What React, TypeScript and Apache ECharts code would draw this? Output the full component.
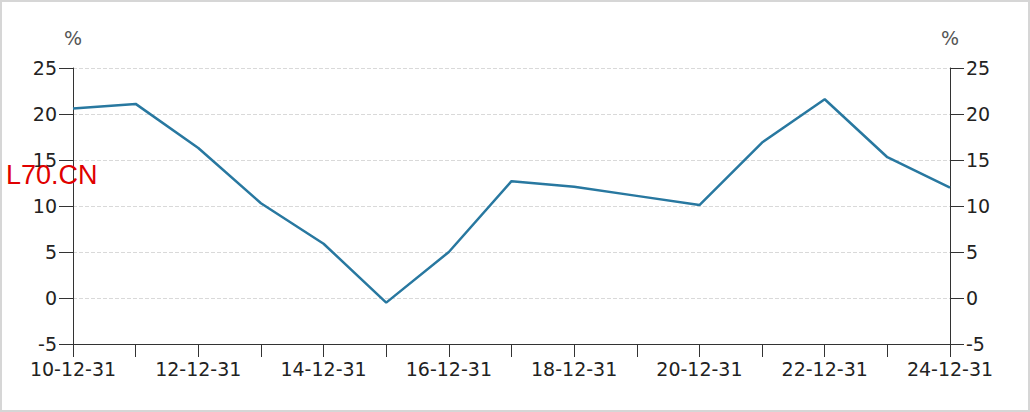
import React, { useEffect, useRef } from "react";
import * as echarts from "echarts";

const categories = [
  "10-12-31", "11-12-31", "12-12-31", "13-12-31", "14-12-31",
  "15-12-31", "16-12-31", "17-12-31", "18-12-31", "19-12-31",
  "20-12-31", "21-12-31", "22-12-31", "23-12-31", "24-12-31",
];
const values = [20.6, 21.1, 16.3, 10.3, 5.9, -0.5, 5.0, 12.7, 12.1, 11.1, 10.1, 16.9, 21.6, 15.3, 12.0];
const yMin = -5;
const yMax = 25;
const yStep = 5;
const unitName = "%";
const watermark = "L70.CN";

const FONT = "'DejaVu Sans', sans-serif";

export default function App() {
  const ref = useRef<HTMLDivElement>(null);
  useEffect(() => {
    const chart = echarts.init(ref.current!, null, { renderer: "svg" });
    const yAxisCommon = {
      type: "value" as const,
      min: yMin,
      max: yMax,
      interval: yStep,
      name: unitName,
      nameGap: 21,
      nameTextStyle: { color: "#555", fontSize: 19, fontFamily: FONT },
      axisLine: { show: true, lineStyle: { color: "#333", width: 1 } },
      axisTick: { show: true, length: 14, lineStyle: { color: "#333" } },
      axisLabel: { color: "#222", fontSize: 19, fontFamily: FONT, margin: 16 },
    };
    chart.setOption({
      animation: false,
      grid: { left: 71, right: 78, top: 66, bottom: 66, containLabel: false },
      graphic: [
        {
          type: "text",
          left: 4,
          top: 159,
          style: { text: watermark, fill: "#e00000", fontSize: 27, fontFamily: "'Liberation Sans', Arial, sans-serif" },
          z: 100,
        },
      ],
      xAxis: {
        type: "category",
        data: categories,
        boundaryGap: false,
        axisLine: { onZero: false, lineStyle: { color: "#333", width: 1 } },
        axisTick: { show: true, length: 13, interval: 0, lineStyle: { color: "#333" } },
        axisLabel: { color: "#222", fontSize: 19, fontFamily: FONT, margin: 15, interval: 1 },
        splitLine: { show: false },
      },
      yAxis: [
        {
          ...yAxisCommon,
          position: "left",
          splitLine: { show: true, lineStyle: { color: "#d9d9d9", type: "dashed" } },
        },
        {
          ...yAxisCommon,
          position: "right",
          splitLine: { show: false },
        },
      ],
      series: [
        {
          type: "line",
          data: values,
          yAxisIndex: 0,
          symbol: "none",
          lineStyle: { color: "#2878a0", width: 2.5 },
          itemStyle: { color: "#2878a0" },
        },
      ],
    });
    return () => chart.dispose();
  }, []);
  return (
    <div
      style={{
        position: "fixed",
        left: 0,
        top: 0,
        width: 1030,
        height: 412,
        boxSizing: "border-box",
        border: "2px solid #d6d6d6",
        background: "#fff",
      }}
    >
      <div ref={ref} style={{ width: 1026, height: 408 }} />
    </div>
  );
}
